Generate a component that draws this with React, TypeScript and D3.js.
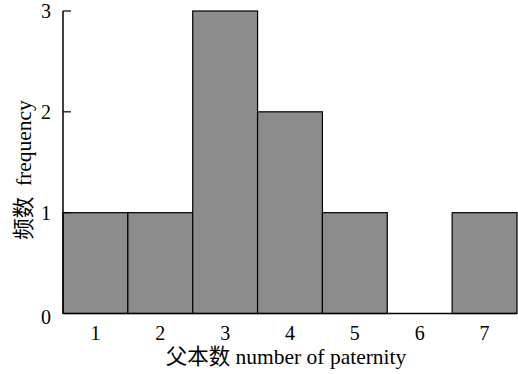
import React from "react";
import * as d3 from "d3";

const categories = [1, 2, 3, 4, 5, 6, 7];
const frequency = [1, 1, 3, 2, 1, 0, 1];
const yTicks = [0, 1, 2, 3];
const xTitle = "父本数 number of paternity";
const yTitle = "频数 frequency";

const W = 518;
const H = 374;
const margin = { left: 63, right: 1, top: 11, bottom: 60 };

export default function App() {
  const x = d3
    .scaleLinear()
    .domain([0.5, 7.5])
    .range([margin.left, W - margin.right]);
  const y = d3
    .scaleLinear()
    .domain([0, 3])
    .range([H - margin.bottom - 0.5, margin.top]);
  const font = "'Liberation Serif', 'Times New Roman', serif";
  const cjk = "'Liberation Serif', 'Noto Sans CJK SC', serif";
  return (
    <svg
      width={W}
      height={H}
      style={{ position: "absolute", left: 0, top: 0, background: "#fff" }}
    >
      {categories.map((c, i) =>
        frequency[i] > 0 ? (
          <rect
            key={c}
            x={x(c - 0.5)}
            y={y(frequency[i])}
            width={x(c + 0.5) - x(c - 0.5)}
            height={y(0) - y(frequency[i])}
            fill="#8c8c8c"
            stroke="#000"
            strokeWidth={1.2}
          />
        ) : null
      )}
      <line
        x1={x(0.5)}
        x2={x(7.5)}
        y1={y(0)}
        y2={y(0)}
        stroke="#000"
        strokeWidth={1.5}
      />
      <line
        x1={x(0.5)}
        x2={x(0.5)}
        y1={y(0)}
        y2={y(3)}
        stroke="#000"
        strokeWidth={1.5}
      />
      {yTicks.map((t) => (
        <g key={t}>
          {t > 0 && (
            <line
              x1={x(0.5)}
              x2={x(0.5) + 8}
              y1={y(t)}
              y2={y(t)}
              stroke="#000"
              strokeWidth={1.2}
            />
          )}
          <text
            x={x(0.5) - 12}
            y={y(t) + (t === 0 ? 3 : 0)}
            textAnchor="end"
            dominantBaseline="central"
            fontFamily={font}
            fontSize={20}
          >
            {t}
          </text>
        </g>
      ))}
      {categories.map((c) => (
        <text
          key={c}
          x={x(c)}
          y={y(0) + 19}
          textAnchor="middle"
          dominantBaseline="central"
          fontFamily={font}
          fontSize={20}
        >
          {c}
        </text>
      ))}
      <text
        x={286}
        y={357}
        textAnchor="middle"
        dominantBaseline="central"
        fontFamily={cjk}
        fontSize={21.5}
      >
        {xTitle}
      </text>
      <text
        transform={`translate(24, 170) rotate(-90)`}
        textAnchor="middle"
        dominantBaseline="central"
        fontFamily={cjk}
        fontSize={21.5}
        style={{ whiteSpace: "pre" }}
      >
        {yTitle.replace(" ", "  ")}
      </text>
    </svg>
  );
}
